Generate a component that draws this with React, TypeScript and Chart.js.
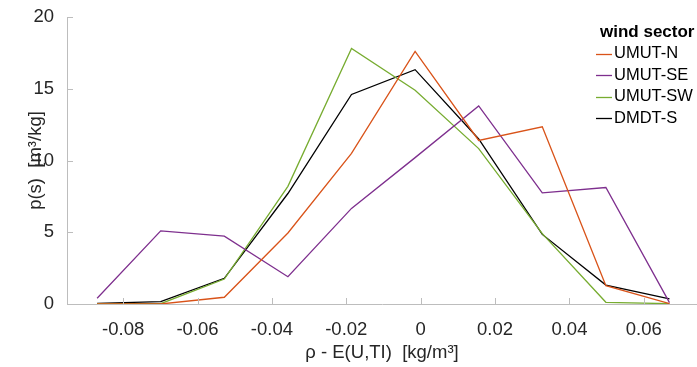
import React, { useEffect, useRef } from 'react';
import { Chart, registerables } from 'chart.js';

Chart.register(...registerables);

// ---- data ----
const rhoBins = [-0.087, -0.0699, -0.0528, -0.0357, -0.0186, -0.0015, 0.0156, 0.0327, 0.0498, 0.0669];
const umutN = [0, 0, 0.47, 4.95, 10.5, 17.6, 11.4, 12.35, 1.28, 0.03];
const umutSE = [0.4, 5.1, 4.73, 1.9, 6.66, 10.2, 13.8, 7.75, 8.12, 0.1];
const umutSW = [0.02, 0.02, 1.74, 8.2, 17.8, 14.9, 10.83, 4.9, 0.12, 0.02];
const dmdtS = [0.05, 0.17, 1.79, 7.7, 14.6, 16.33, 11.5, 4.85, 1.32, 0.35];
const seriesLabels = ['UMUT-N', 'UMUT-SE', 'UMUT-SW', 'DMDT-S'];
const seriesColors = ['#D95319', '#7E2F8E', '#77AC30', '#000000'];
const xTicks = [-0.08, -0.06, -0.04, -0.02, 0, 0.02, 0.04, 0.06];
const yTicks = [0, 5, 10, 15, 20];
const legendTitle = 'wind sector';
const xTitle = 'ρ - E(U,TI)  [kg/m³]';
const yTitle = 'p(s)  [m³/kg]';

const FONT = "'Liberation Sans', Arial, sans-serif";
const AXIS = '#bdbdbd';
const TEXT = '#262626';

const inwardTicks = {
  id: 'inwardTicks',
  afterDatasetsDraw(chart: any) {
    const { ctx, chartArea, scales } = chart;
    const x = scales.x;
    const y = scales.y;
    ctx.save();
    ctx.strokeStyle = AXIS;
    ctx.lineWidth = 1;
    x.ticks.forEach((t: any) => {
      const px = Math.round(x.getPixelForValue(t.value)) + 0.5;
      ctx.beginPath();
      ctx.moveTo(px, chartArea.bottom);
      ctx.lineTo(px, chartArea.bottom - 6);
      ctx.stroke();
    });
    y.ticks.forEach((t: any) => {
      const py = Math.round(y.getPixelForValue(t.value)) + 0.5;
      ctx.beginPath();
      ctx.moveTo(chartArea.left, py);
      ctx.lineTo(chartArea.left + 6, py);
      ctx.stroke();
    });
    ctx.restore();
  },
};

const boxLegend = {
  id: 'boxLegend',
  afterDraw(chart: any) {
    const { ctx } = chart;
    ctx.save();
    ctx.textBaseline = 'middle';
    ctx.textAlign = 'left';
    ctx.fillStyle = '#000';
    ctx.font = `bold 17px ${FONT}`;
    ctx.fillText(legendTitle, 600, 32);
    ctx.font = `16.5px ${FONT}`;
    chart.data.datasets.forEach((ds: any, i: number) => {
      const yy = 53.8 + i * 21.5;
      ctx.strokeStyle = ds.borderColor;
      ctx.lineWidth = 1.3;
      ctx.beginPath();
      ctx.moveTo(596, Math.round(yy) + 0.5);
      ctx.lineTo(612, Math.round(yy) + 0.5);
      ctx.stroke();
      ctx.fillStyle = '#000';
      ctx.fillText(ds.label, 614, yy);
    });
    ctx.restore();
  },
};

export default function App() {
  const ref = useRef<HTMLCanvasElement>(null);

  useEffect(() => {
    if (!ref.current) return;
    const series = [umutN, umutSE, umutSW, dmdtS];
    const chart = new Chart(ref.current, {
      type: 'line',
      data: {
        datasets: series.map((vals, i) => ({
          label: seriesLabels[i],
          data: rhoBins.map((x, j) => ({ x, y: vals[j] })),
          borderColor: seriesColors[i],
          backgroundColor: seriesColors[i],
          borderWidth: 1.3,
          pointRadius: 0,
          tension: 0,
          fill: false,
        })),
      },
      options: {
        responsive: false,
        animation: false,
        devicePixelRatio: 1,
        layout: { padding: { top: 17, right: 0, left: 0, bottom: 0 } },
        plugins: {
          legend: { display: false },
          tooltip: { enabled: false },
        },
        scales: {
          x: {
            type: 'linear',
            min: -0.0951,
            max: 0.0743,
            grid: { display: false },
            border: { display: true, color: AXIS, width: 1 },
            afterBuildTicks: (scale: any) => {
              scale.ticks = xTicks.map((v) => ({ value: v }));
            },
            afterFit: (scale: any) => {
              scale.height = 63;
            },
            ticks: {
              color: TEXT,
              font: { family: FONT, size: 18.5 },
              padding: 7,
              maxRotation: 0,
              autoSkip: false,
              callback: (v: any) => (Number(v) === 0 ? '0' : Number(v).toFixed(2)),
            },
            title: {
              display: true,
              text: xTitle,
              color: TEXT,
              font: { family: FONT, size: 18.5 },
              padding: { top: 0, bottom: 3 },
            },
          },
          y: {
            type: 'linear',
            min: 0,
            max: 20,
            grid: { display: false },
            border: { display: true, color: AXIS, width: 1 },
            afterBuildTicks: (scale: any) => {
              scale.ticks = yTicks.map((v) => ({ value: v }));
            },
            afterFit: (scale: any) => {
              scale.width = 67;
            },
            ticks: {
              color: TEXT,
              font: { family: FONT, size: 18.5 },
              padding: 5,
              autoSkip: false,
              callback: (v: any) => String(v),
            },
            title: {
              display: true,
              text: yTitle,
              color: TEXT,
              font: { family: FONT, size: 18.5 },
              padding: { top: 25, bottom: 0 },
            },
          },
        },
      },
      plugins: [inwardTicks, boxLegend],
    } as any);
    return () => chart.destroy();
  }, []);

  return (
    <div style={{ position: 'absolute', left: 0, top: 0, width: 697, height: 367, background: '#fff' }}>
      <canvas ref={ref} width={697} height={367} style={{ display: 'block' }} />
    </div>
  );
}
